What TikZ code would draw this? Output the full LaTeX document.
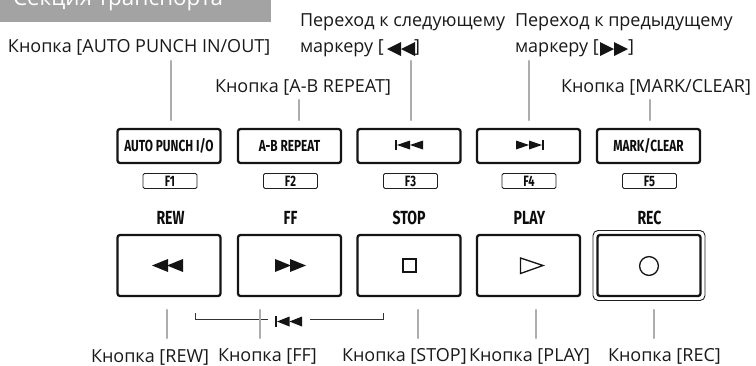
\documentclass[tikz,border=0pt]{standalone}
\usepackage{fontspec}
\setmainfont{Open Sans}
\newfontfamily\capfont[FakeStretch=0.74]{Fira Sans Bold}
\tikzset{
  lab/.style={anchor=base west,inner sep=0pt,outer sep=0pt,font=\fontsize{18}{20}\selectfont,text=black!90},
  btn/.style={draw=black!92,line width=2.3pt,rounded corners=2.5pt,inner sep=0pt,outer sep=0pt,minimum width=103pt,font=\capfont\fontsize{16}{17}\selectfont,text=black!95},
  topbtn/.style={btn,minimum height=34pt},
  botbtn/.style={btn,minimum height=61pt},
  fkey/.style={draw=black!88,line width=0.9pt,rounded corners=1.5pt,inner sep=0pt,outer sep=0pt,minimum width=54pt,minimum height=15pt,font=\capfont\fontsize{15}{16}\selectfont,text=black!95},
  captext/.style={inner sep=0pt,outer sep=0pt,anchor=base,font=\capfont\fontsize{19}{20}\selectfont,text=black!95},
  lead/.style={draw=black!32,line width=2.4pt,line cap=round},
  ico/.style={fill=black!92,draw=none},
  brack/.style={draw=black!80,line width=0.7pt},
}
\begin{document}
\begin{tikzpicture}[x=1pt,y=-1pt]
\useasboundingbox (0,0) rectangle (756,365);
% section header
\begin{scope}
\clip (0,0) rectangle (271,22);
\fill[black!36] (0,0) rectangle (271,22);
\node[lab,text=white,font=\fontsize{22.4}{24}\selectfont] (sect) at (13,5) {Секция транспорта};
\end{scope}
% labels
\node[lab] (lauto) at (8,52) {Кнопка [AUTO PUNCH IN/OUT]};
\node[lab] (lrep) at (215,92) {Кнопка [A-B REPEAT]};
\node[lab] (lnext) at (300,26) {Переход к следующему};
\node[lab] (lnextb) at (300,52) {маркеру [};
\node[lab] (lprev) at (515,26) {Переход к предыдущему};
\node[lab] (lprevb) at (515,52) {маркеру [};
\node[lab] (lmark) at (561,92) {Кнопка [MARK/CLEAR]};
\node[lab] (lrew) at (91,362) {Кнопка [REW]};
\node[lab] (lff) at (218,361) {Кнопка [FF]};
\node[lab] (lstop) at (342,361) {Кнопка [STOP]};
\node[lab] (lplay) at (469,361) {Кнопка [PLAY]};
\node[lab] (lrec) at (608,361) {Кнопка [REC]};
% marker glyphs in the labels
\fill[ico] (387,49) -- (401,42) -- (401,56) -- cycle;
\fill[ico] (401,49) -- (415,42) -- (415,56) -- cycle;
\node[lab] (lnextc) at (414,52) {]};
\fill[ico] (600,42) -- (614,49) -- (600,56) -- cycle;
\fill[ico] (614,42) -- (628,49) -- (614,56) -- cycle;
\node[lab] (lprevc) at (628,52) {]};
% top buttons
\node[topbtn] (b1) at (169,146) {AUTO PUNCH I/O};
\node[topbtn] (b2) at (289.5,146) {A-B REPEAT};
\node[topbtn] (b3) at (409,146) {};
\node[topbtn] (b4) at (528.5,146) {};
\node[topbtn] (b5) at (648.5,146) {MARK/CLEAR};
\node[fkey] (f1) at (170,181) {F1};
\node[fkey] (f2) at (290.5,181) {F2};
\node[fkey] (f3) at (410.5,181) {F3};
\node[fkey] (f4) at (529,181) {F4};
\node[fkey] (f5) at (649.5,181) {F5};
% bottom buttons
\node[botbtn] (p1) at (169,265.5) {};
\node[botbtn] (p2) at (289.5,265.5) {};
\node[botbtn] (p3) at (409,265.5) {};
\node[botbtn] (p4) at (528.5,265.5) {};
\node[botbtn] (p5) at (649,265.5) {};
\node[draw=black!88,line width=0.9pt,rounded corners=5pt,inner sep=0pt,outer sep=0pt,minimum width=112pt,minimum height=70pt] (p5o) at (649,265.5) {};
\node[captext] (crew) at (170.5,224) {REW};
\node[captext] (cff) at (290.5,224) {FF};
\node[captext] (cstop) at (409,224) {STOP};
\node[captext] (cplay) at (529.5,224) {PLAY};
\node[captext] (crec) at (649.5,224) {REC};
% icons in buttons
\fill[ico] (152,265.5) -- (168,259) -- (168,272) -- cycle;
\fill[ico] (167,265.5) -- (183,259) -- (183,272) -- cycle;
\fill[ico] (275,259) -- (291,265.5) -- (275,272) -- cycle;
\fill[ico] (290,259) -- (306,265.5) -- (290,272) -- cycle;
\draw[black!92,line width=1.5pt] (403,259) rectangle (416,272);
\draw[black!92,line width=1.3pt] (520.5,258) -- (543,265.5) -- (520.5,273.5) -- cycle;
\draw[black!92,line width=1.3pt] (649,266) circle (9.4);
\fill[ico] (395,140) rectangle (396.6,150);
\fill[ico] (397,145) -- (410,140.5) -- (410,149.5) -- cycle;
\fill[ico] (410,145) -- (423,140.5) -- (423,149.5) -- cycle;
\fill[ico] (516,140.5) -- (529,145) -- (516,149.5) -- cycle;
\fill[ico] (529,140.5) -- (542,145) -- (529,149.5) -- cycle;
\fill[ico] (542,140) rectangle (543.6,150);
% bracket
\coordinate (brA) at (195,313);
\coordinate (brB) at (268,319.5);
\coordinate (brC) at (310,319.5);
\coordinate (brD) at (383,313);
\draw[brack] (brA) |- (brB);
\draw[brack] (brC) -| (brD);
\fill[ico] (275,316) rectangle (276.6,327);
\fill[ico] (277,321.5) -- (289.5,316.5) -- (289.5,326.5) -- cycle;
\fill[ico] (289.5,321.5) -- (302,316.5) -- (302,326.5) -- cycle;
% leaders
\coordinate (t1) at (171,61); \coordinate (u1) at (171,120);
\coordinate (t2) at (299,100); \coordinate (u2) at (299,120);
\coordinate (t3) at (411,61); \coordinate (u3) at (411,120);
\coordinate (t4) at (529,61); \coordinate (u4) at (529,120);
\coordinate (t5) at (650,100); \coordinate (u5) at (650,120);
\coordinate (v1) at (167,310); \coordinate (w1) at (167,338);
\coordinate (v2) at (260,310); \coordinate (w2) at (260,338);
\coordinate (v3) at (418,310); \coordinate (w3) at (418,338);
\coordinate (v4) at (536,310); \coordinate (w4) at (536,338);
\coordinate (v5) at (654,310); \coordinate (w5) at (654,338);
\foreach \a/\b in {t1/u1,t2/u2,t3/u3,t4/u4,t5/u5,v1/w1,v2/w2,v3/w3,v4/w4,v5/w5}
  \draw[lead] (\a) -- (\b);
\end{tikzpicture}
\end{document}
